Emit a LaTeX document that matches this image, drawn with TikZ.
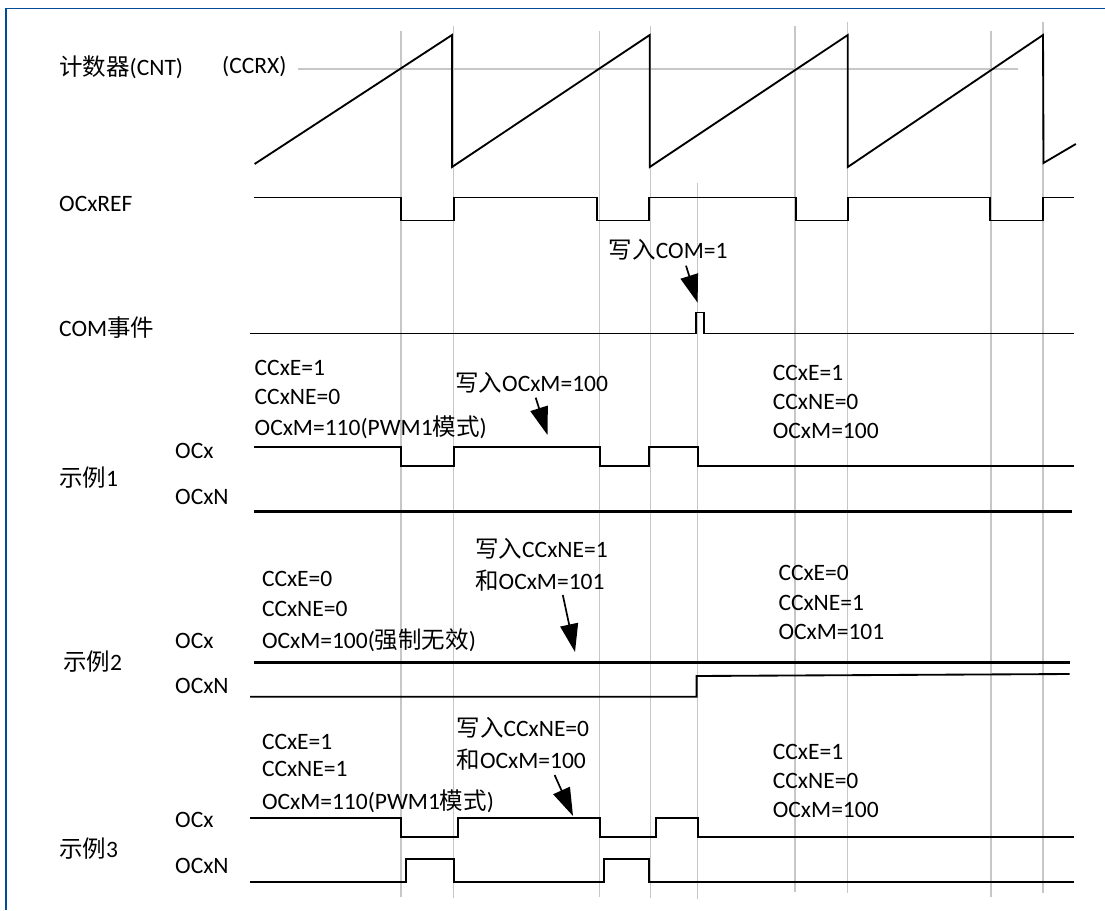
\documentclass[tikz,border=0pt]{standalone}
\usepackage{fontspec}
\setmainfont{Carlito}
\newfontfamily\cjk{Noto Sans CJK SC}
\usetikzlibrary{arrows.meta}
\tikzset{
  grid line/.style={draw=black!22,line width=1.3pt},
  sig/.style={draw=black,line width=1.85pt,line join=miter},
  sig thick/.style={draw=black,line width=2.4pt},
  lab/.style={anchor=west,inner sep=0pt,font=\fontsize{23.5}{26}\selectfont},
  wr/.style={-{Triangle[length=28pt,width=18pt]},draw=black,line width=1.7pt}
}
\begin{document}
\begin{tikzpicture}[x=1pt,y=-1pt]
  \useasboundingbox (0,0) rectangle (1105,910);
  \fill[white] (0,0) rectangle (1105,910);
  \draw[draw=blue!50!cyan!60!black,line width=1.2pt] (6,910) -- (6,8.5) -- (1105,8.5);
  % vertical marks
  \foreach \x/\t/\b in {401/31/897,453.6/26/898,599.3/31/897,650.4/26/898,697.3/183/899,795/26/892,847.8/22/893,991/31/897,1043/22/893}
    \draw[grid line] (\x,\t) -- (\x,\b);
  \draw[grid line] (298,69) -- (1018,69);
  % counter
  \draw[sig] (254.6,164) -- (452,35) -- (452,167) -- (649.7,35) -- (649.7,167) -- (847.8,35) -- (847.8,167) -- (1043,35) -- (1043.5,163) -- (1075.8,144);
  % OCxREF
  \draw[sig] (254,197.5) -- (401,197.5) -- (401,220.5) -- (453.6,220.5) -- (453.6,197.5) -- (597.2,197.5) -- (597.2,220.5) -- (649,220.5) -- (649,197.5) -- (795.7,197.5) -- (795.7,220.5) -- (847.8,220.5) -- (847.8,197.5) -- (990.3,197.5) -- (990.3,220.5) -- (1042.8,220.5) -- (1042.8,197.5) -- (1073.7,197.5);
  % COM event
  \draw[sig] (250,333.5) -- (696.3,333.5) -- (696.3,312.5) -- (704.2,312.5) -- (704.2,333.5) -- (1073.7,333.5);
  % case 1
  \draw[sig] (254,447) -- (401,447) -- (401,466) -- (453.6,466) -- (453.6,447) -- (600,447) -- (600,466) -- (648.6,466) -- (648.6,447) -- (697.6,447) -- (697.6,466) -- (1073.7,466);
  \draw[sig thick] (254,511.3) -- (1071.6,511.3);
  % case 2
  \draw[sig thick] (254,662.3) -- (1069.6,662.3);
  \draw[sig] (250,696.7) -- (696.6,696.7) -- (696.6,676) -- (1069.6,674);
  % case 3
  \draw[sig] (250,817.7) -- (401,817.7) -- (401,836.7) -- (457.9,836.7) -- (457.9,817.7) -- (600,817.7) -- (600,836.7) -- (656.3,836.7) -- (656.3,817.7) -- (697.6,817.7) -- (697.6,836.7) -- (1073.7,836.7);
  \draw[sig] (250,882) -- (406.4,882) -- (406.4,859) -- (454,859) -- (454,882) -- (603.8,882) -- (603.8,859) -- (649,859) -- (649,882) -- (1073.7,882);
  % row names
  \node[lab] (cnt) at (59,67) {{\cjk 计数器}(CNT)};
  \node[lab] (ccrx) at (222,67) {(CCRX)};
  \node[lab] (ref) at (59,204) {OCxREF};
  \node[lab] (com) at (59,328) {COM{\cjk 事件}};
  \node[lab] (caseA) at (59,478) {{\cjk 示例}1};
  \node[lab] (caseB) at (63,662) {{\cjk 示例}2};
  \node[lab] (caseC) at (59,849) {{\cjk 示例}3};
  \node[lab] (ocA) at (175,450.7) {OCx};
  \node[lab] (ocnA) at (175,496.7) {OCxN};
  \node[lab] (ocB) at (175,641) {OCx};
  \node[lab] (ocnB) at (175,686) {OCxN};
  \node[lab] (ocC) at (175,820) {OCx};
  \node[lab] (ocnC) at (175,865.7) {OCxN};
  % settings before the event
  \node[lab] (aE) at (254.5,367.7) {CCxE=1};
  \node[lab] (aN) at (254.5,396.7) {CCxNE=0};
  \node[lab] (aM) at (254.5,427) {OCxM=110(PWM1{\cjk 模式})};
  \node[lab] (bE) at (261.8,579.3) {CCxE=0};
  \node[lab] (bN) at (261.8,609) {CCxNE=0};
  \node[lab] (bM) at (261.8,640) {OCxM=100({\cjk 强制无效})};
  \node[lab] (cE) at (261.8,741.7) {CCxE=1};
  \node[lab] (cN) at (261.8,769.3) {CCxNE=1};
  \node[lab] (cM) at (261.8,801.7) {OCxM=110(PWM1{\cjk 模式})};
  % settings after the event
  \node[lab] (dE) at (772.7,373.3) {CCxE=1};
  \node[lab] (dN) at (772.7,401.7) {CCxNE=0};
  \node[lab] (dM) at (772.7,430.7) {OCxM=100};
  \node[lab] (eE) at (778.3,573.3) {CCxE=0};
  \node[lab] (eN) at (778.3,602.7) {CCxNE=1};
  \node[lab] (eM) at (778.3,631.7) {OCxM=101};
  \node[lab] (fE) at (772.7,751.7) {CCxE=1};
  \node[lab] (fN) at (772.7,781) {CCxNE=0};
  \node[lab] (fM) at (772.7,810) {OCxM=100};
  % writes
  \node[lab] (wCom) at (608.7,250) {{\cjk 写入}COM=1};
  \node[lab] (wA) at (455,383) {{\cjk 写入}OCxM=100};
  \node[lab] (wB) at (475,549) {{\cjk 写入}CCxNE=1};
  \node[lab] (wBb) at (475,581) {{\cjk 和}OCxM=101};
  \node[lab] (wC) at (456.4,727.7) {{\cjk 写入}CCxNE=0};
  \node[lab] (wCb) at (456.4,760) {{\cjk 和}OCxM=100};
  \coordinate (wComS) at (686,265.7);
  \coordinate (wComT) at (697.6,302.7);
  \coordinate (wAS) at (535.7,397.7);
  \coordinate (wAT) at (547.5,435);
  \coordinate (wBS) at (562.8,595);
  \coordinate (wBT) at (575,652);
  \coordinate (wCS) at (554.6,775);
  \coordinate (wCT) at (573,816);
  \draw[wr] (wComS) -- (wComT);
  \draw[wr] (wAS) -- (wAT);
  \draw[wr] (wBS) -- (wBT);
  \draw[wr] (wCS) -- (wCT);
\end{tikzpicture}
\end{document}
